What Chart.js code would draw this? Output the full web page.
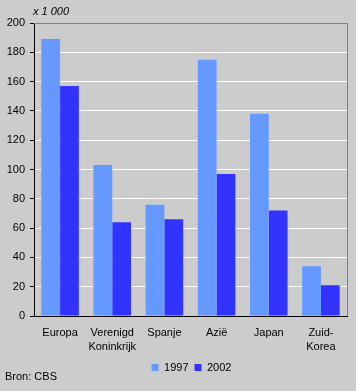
<!DOCTYPE html>
<html><head><meta charset="utf-8">
<script src="https://cdn.jsdelivr.net/npm/chart.js@4"></script>
<style>html,body{margin:0;padding:0;background:#cccccc;}#w{width:356px;height:391px;position:relative}</style>
</head><body><div id="w"><canvas id="c" width="356" height="391"></canvas></div>
<script>
const categories = [['Europa'], ['Verenigd','Koninkrijk'], ['Spanje'], ['Azië'], ['Japan'], ['Zuid-','Korea']];
const values1997 = [189, 103, 76, 175, 138, 34];
const values2002 = [157, 64, 66, 97, 72, 21];
const seriesNames = ['1997', '2002'];
const yTicks = [0, 20, 40, 60, 80, 100, 120, 140, 160, 180, 200];
const unitLabel = 'x 1 000';
const sourceLabel = 'Bron: CBS';

const FONT = "'Liberation Sans', Arial, sans-serif";
const extras = {
  id: 'extras',
  afterLayout(chart) {
    if (chart.legend) { chart.legend.left += 18; chart.legend.right += 18; }
  },
  beforeDatasetsDraw(chart) {
    const {ctx, chartArea: a} = chart;
    ctx.save();
    ctx.strokeStyle = '#808080';
    ctx.lineWidth = 1;
    ctx.beginPath();
    ctx.moveTo(a.left, Math.round(a.top) + 0.5);
    ctx.lineTo(Math.round(a.right) + 0.5, Math.round(a.top) + 0.5);
    ctx.lineTo(Math.round(a.right) + 0.5, a.bottom);
    ctx.stroke();
    ctx.restore();
  },
  afterDraw(chart) {
    const {ctx} = chart;
    ctx.save();
    ctx.fillStyle = '#000';
    ctx.textBaseline = 'middle';
    ctx.font = 'italic 11px ' + FONT;
    ctx.fillText(unitLabel, 33, 12);
    ctx.font = '11px ' + FONT;
    ctx.fillText(sourceLabel, 5, 377);
    ctx.restore();
  }
};

new Chart(document.getElementById('c'), {
  type: 'bar',
  data: {
    labels: categories,
    datasets: [
      {label: seriesNames[0], data: values1997, backgroundColor: '#6699ff', borderWidth: 0},
      {label: seriesNames[1], data: values2002, backgroundColor: '#3333ff', borderWidth: 0}
    ]
  },
  options: {
    responsive: false,
    animation: false,
    devicePixelRatio: 1,
    layout: {padding: {left: 0, top: 23, right: 9, bottom: 8}},
    datasets: {bar: {categoryPercentage: 0.72, barPercentage: 1}},
    plugins: {
      tooltip: {enabled: false},
      legend: {
        position: 'bottom',
        labels: {
          boxWidth: 7, boxHeight: 7, padding: 6,
          color: '#000', font: {family: FONT, size: 11}
        }
      }
    },
    scales: {
      x: {
        grid: {display: false, drawTicks: false},
        border: {color: '#000', width: 1},
        ticks: {color: '#000', font: {family: FONT, size: 11, lineHeight: 1.3}, padding: 10, maxRotation: 0, autoSkip: false},
        afterFit(s) { s.height = 40; }
      },
      y: {
        min: 0, max: 200,
        afterBuildTicks(s) { s.ticks = yTicks.map(v => ({value: v})); },
        grid: {color: ctx => (ctx.tick && ctx.tick.value === 200) ? 'rgba(0,0,0,0)' : '#ffffff', tickColor: '#000', tickLength: 4, lineWidth: 1},
        border: {color: '#000', width: 1},
        ticks: {color: '#000', font: {family: FONT, size: 11}, padding: 5},
        afterFit(s) { s.width = 34; }
      }
    }
  },
  plugins: [extras]
});
</script></body></html>
